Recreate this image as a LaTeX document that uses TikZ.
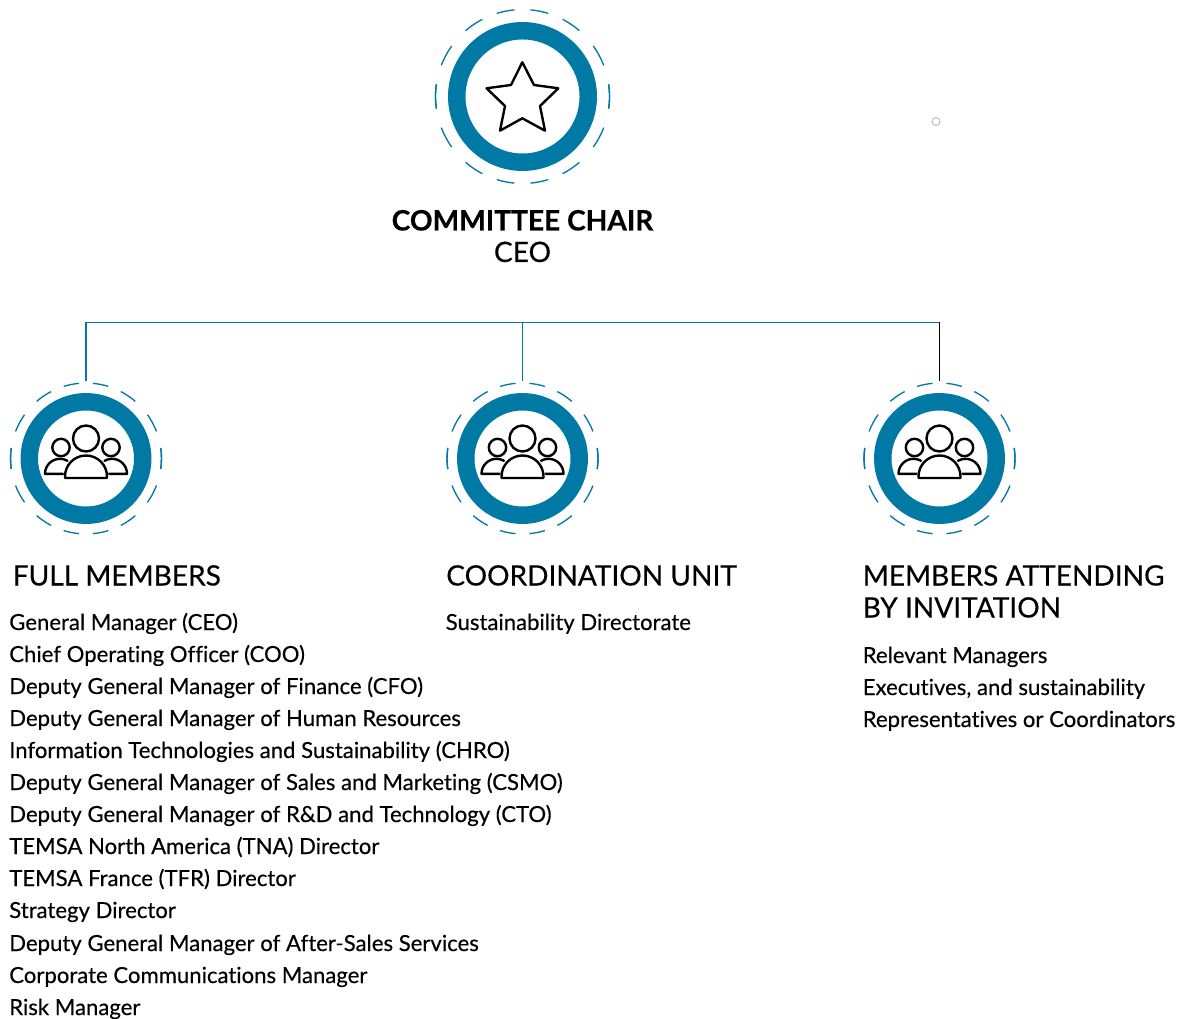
\documentclass[tikz,border=0pt]{standalone}
\usepackage{fontspec}
\setmainfont{Lato}[Ligatures=NoCommon,RawFeature={embolden=0.35}]
\definecolor{ringblue}{HTML}{0079A5}
\tikzset{
  dashring/.style={draw=ringblue,line width=1.0pt},
  icon/.style={draw=black,line width=1.8pt,line join=round,line cap=round},
  conn/.style={draw=ringblue,line width=0.8pt},
  head/.style={anchor=base west,inner sep=0pt,font=\fontsize{21.05}{24}\selectfont},
  body/.style={anchor=base west,inner sep=0pt,font=\fontsize{16.6}{20}\selectfont},
}
\newcommand{\dashes}[2]{% centre, radius
  \foreach \a/\b in {5.3/17.2,27.5/40.8,54.5/69,82/98}{
    \draw[dashring] ($(#1)+({90-\a}:#2)$) arc[start angle={90-\a},end angle={90-\b},radius=#2];
    \draw[dashring] ($(#1)+({90+\a}:#2)$) arc[start angle={90+\a},end angle={90+\b},radius=#2];
    \draw[dashring] ($(#1)+({-90-\a}:#2)$) arc[start angle={-90-\a},end angle={-90-\b},radius=#2];
    \draw[dashring] ($(#1)+({-90+\a}:#2)$) arc[start angle={-90+\a},end angle={-90+\b},radius=#2];
  }
}
\newcommand{\people}[1]{%
  \begin{scope}[shift={(#1)},x=0.75pt,y=0.75pt]
    \draw[icon] (0,20) circle[radius=13];
    \draw[icon] (-25,11) circle[radius=8.7];
    \draw[icon] (25,11) circle[radius=8.7];
    \draw[icon] (-21,-19.5) -- (21,-19.5) -- (21,-18) arc[start angle=0,end angle=180,radius=21] -- cycle;
    \draw[icon] (-23,-15.3) -- (-41,-15.3) arc[start angle=180,end angle=60,radius=15];
    \draw[icon] (23,-15.3) -- (41,-15.3) arc[start angle=0,end angle=120,radius=15];
  \end{scope}
}
\usetikzlibrary{calc}
\begin{document}
\begin{tikzpicture}[x=0.75pt,y=-0.75pt]
\useasboundingbox (0,0) rectangle (1177,1019);
\coordinate (chair) at (522.5,96.5);
\coordinate (a) at (86,458.5);
\coordinate (b) at (522.5,458.5);
\coordinate (c) at (939.5,458.5);
\coordinate (top) at (522.5,322.3);
\coordinate (tl) at (86,322.3);
\coordinate (tr) at (939.5,322.3);
\coordinate (ea) at (86,381);
\coordinate (eb) at (522.5,381);
\coordinate (ec) at (939.5,381);
% top ring
\draw[ringblue,line width=13.1pt] (chair) circle[radius=65.75];
\dashes{chair}{65.25pt}
\draw[icon] (522.3,62.3) -- (534,85) -- (558.3,88.3) -- (540,106) -- (545,130.7) -- (522.3,118.3) -- (500,130.7) -- (505,106) -- (486.5,88.3) -- (511,85) -- cycle;
% lower rings
\foreach \p in {a,b,c}{
  \draw[ringblue,line width=13.1pt] (\p) circle[radius=56.75];
  \dashes{\p}{56.6pt}
  \people{\p}
}
% connectors
\draw[conn] (ea) -- (tl) -- (tr);
\draw[conn] (top) -- (eb);
\draw[draw=black,line width=0.8pt] (tr) -- (ec);
% stray dot
\node[circle,draw=black!25,line width=0.8pt,minimum size=6pt,inner sep=0pt] (dot) at (936,121.5) {};
% titles
\node[anchor=base,inner sep=0pt,font=\fontsize{21.1}{24}\selectfont\bfseries] (t1) at (522.5,230.5) {COMMITTEE CHAIR};
\node[anchor=base,inner sep=0pt,font=\fontsize{21.1}{24}\selectfont] (t2) at (522.5,262) {CEO};
\node[head] (h1) at (12.5,585.5) {FULL MEMBERS};
\node[head] (h2) at (446,585.5) {COORDINATION UNIT};
\node[head] (h3) at (862.5,585.5) {MEMBERS ATTENDING};
\node[head] (h4) at (862.5,617.5) {BY INVITATION};
% list
\foreach \y/\t in {
 630/General Manager (CEO),
 662/Chief Operating Officer (COO),
 694/Deputy General Manager of Finance (CFO),
 726/Deputy General Manager of Human Resources,
 758/Information Technologies and Sustainability (CHRO),
 790/Deputy General Manager of Sales and Marketing (CSMO),
 822/Deputy General Manager of R\&D and Technology (CTO),
 854/TEMSA North America (TNA) Director,
 886/TEMSA France (TFR) Director,
 918/Strategy Director,
 951/Deputy General Manager of After-Sales Services,
 983/Corporate Communications Manager,
 1015/Risk Manager}{
  \node[body] (l\y) at (9,\y) {\t};
}
\node[body] (m1) at (445.5,630) {Sustainability Directorate};
\node[body] (r1) at (862.5,663) {Relevant Managers};
\node[body] (r2) at (862.5,695) {Executives, and sustainability};
\node[body] (r3) at (862.5,727) {Representatives or Coordinators};
\end{tikzpicture}
\end{document}
